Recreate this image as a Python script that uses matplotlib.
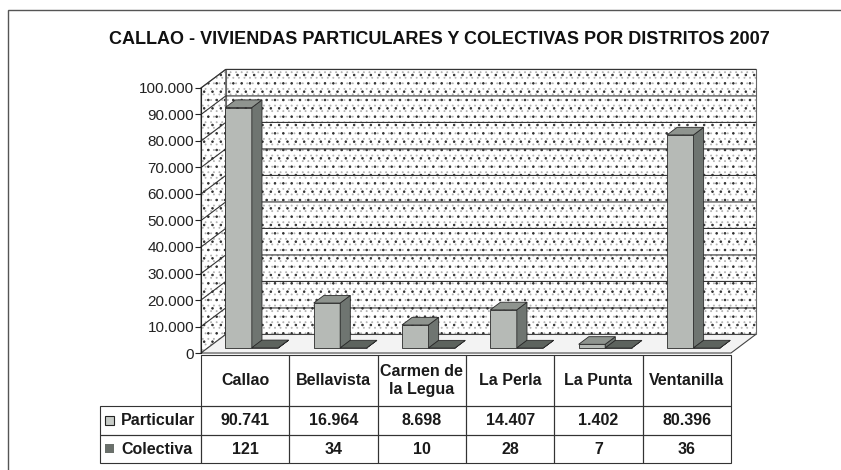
import matplotlib.pyplot as plt
from matplotlib.patches import Polygon, Rectangle

plt.rcParams['font.family'] = ['Liberation Sans', 'DejaVu Sans']
plt.rcParams['hatch.linewidth'] = 0.6

title = "CALLAO - VIVIENDAS PARTICULARES Y COLECTIVAS POR DISTRITOS 2007"
distritos = ["Callao", "Bellavista", "Carmen de\nla Legua", "La Perla", "La Punta", "Ventanilla"]
particular = [90741, 16964, 8698, 14407, 1402, 80396]
colectiva = [121, 34, 10, 28, 7, 36]
series = ["Particular", "Colectiva"]
yticks = list(range(0, 100001, 10000))

# fake 3d: depth of the box in category / value units
DX = 0.28
DY = 7000
f0, f1 = 0.27, 0.68   # depth span of the bars
bw = 0.3

colors = {
    "Particular": ('#b6bab6', '#6f7571', '#8f948f'),
    "Colectiva": ('#6a706b', '#4d534e', '#5d635e'),
}


def fmt(v):
    return f"{v:,}".replace(",", ".")


fig = plt.figure(figsize=(8.41, 4.70), dpi=100)
ax = fig.add_axes([0.239, 0.2489, 0.6596, 0.6034])
n = len(distritos)
top = yticks[-1]
ax.set_xlim(0, n + DX)
ax.set_ylim(0, top + DY)

# walls
walls = [
    [(DX, DY), (n + DX, DY), (n + DX, top + DY), (DX, top + DY)],
    [(0, 0), (DX, DY), (DX, top + DY), (0, top)],
]
for w in walls:
    ax.add_patch(Polygon(w, closed=True, facecolor='white', edgecolor='#b4b4b4', lw=0, hatch='...', zorder=0))
    ax.add_patch(Polygon(w, closed=True, facecolor='none', edgecolor='#303030', lw=0, hatch='..', zorder=0.1))
    ax.add_patch(Polygon(w, closed=True, facecolor='none', edgecolor='#666666', lw=0.8, zorder=0.2, clip_on=False))
floor = [(0, 0), (n, 0), (n + DX, DY), (DX, DY)]
ax.add_patch(Polygon(floor, closed=True, facecolor='#f3f3f3', edgecolor='#444444', lw=0.8, zorder=0.3, clip_on=False))
for v in yticks[1:]:
    ax.plot([0, DX, n + DX], [v, v + DY, v + DY], color='#333333', lw=0.8, zorder=0.5, clip_on=False)


def bar3d(x0, v, front, side, topc):
    ax.bar(x0 + f0 * DX, v, width=bw, bottom=f0 * DY, align='edge', color=front,
           edgecolor='#2a2a2a', lw=0.6, zorder=2)
    x1 = x0 + bw
    ax.add_patch(Polygon([(x1 + f0 * DX, f0 * DY), (x1 + f1 * DX, f1 * DY),
                          (x1 + f1 * DX, v + f1 * DY), (x1 + f0 * DX, v + f0 * DY)],
                         closed=True, facecolor=side, edgecolor='#2a2a2a', lw=0.6, zorder=2))
    ax.add_patch(Polygon([(x0 + f0 * DX, v + f0 * DY), (x1 + f0 * DX, v + f0 * DY),
                          (x1 + f1 * DX, v + f1 * DY), (x0 + f1 * DX, v + f1 * DY)],
                         closed=True, facecolor=topc, edgecolor='#2a2a2a', lw=0.6, zorder=2))


for i in range(n):
    bar3d(i + 0.5 - bw, particular[i], *colors["Particular"])
    bar3d(i + 0.5, colectiva[i], *colors["Colectiva"])

ax.set_xticks([])
ax.set_yticks(yticks)
ax.set_yticklabels([fmt(v) for v in yticks])
ax.tick_params(axis='y', length=4, width=0.8, labelsize=11, pad=1, colors='#222222')
for s in ['top', 'right', 'bottom']:
    ax.spines[s].set_visible(False)
ax.spines['left'].set_bounds(0, top)
ax.spines['left'].set_color('#222222')
ax.spines['left'].set_linewidth(0.8)
ax.patch.set_visible(False)

# data table, drawn in a pixel-like axes below the plot
lab_w, col_w = 101, 88.33
h_head, h_row = 51, 28.5
tw = lab_w + n * col_w
th = h_head + 2 * h_row
tax = fig.add_axes([100 / 841, 7 / 470, tw / 841, th / 470])
tax.set_xlim(0, tw)
tax.set_ylim(th, 0)
tax.axis('off')

cell_kw = dict(facecolor='none', edgecolor='#333333', lw=0.8, clip_on=False)
txt_kw = dict(fontsize=11.5, fontweight='bold', color='#1a1a1a', va='center')
rows = [[fmt(v) for v in particular], [fmt(v) for v in colectiva]]
for j, d in enumerate(distritos):
    x = lab_w + j * col_w
    tax.add_patch(Rectangle((x, 0), col_w, h_head, **cell_kw))
    tax.text(x + col_w / 2, h_head / 2, d, ha='center', linespacing=1.3, **txt_kw)
    for r in range(2):
        y = h_head + r * h_row
        tax.add_patch(Rectangle((x, y), col_w, h_row, **cell_kw))
        tax.text(x + col_w / 2, y + h_row / 2 + 0.5, rows[r][j], ha='center', **txt_kw)

keys = [('#c8ccc8', '#222222'), (colors["Colectiva"][0], 'none')]
for r, name in enumerate(series):
    y = h_head + r * h_row
    tax.add_patch(Rectangle((0, y), lab_w, h_row, **cell_kw))
    tax.add_patch(Rectangle((5, y + h_row / 2 - 4.5), 9, 9, facecolor=keys[r][0],
                            edgecolor=keys[r][1], lw=0.8, clip_on=False))
    tax.text(21, y + h_row / 2 + 0.5, name, ha='left', **txt_kw)

fig.text(0.523, 0.915, title, ha='center', va='center', fontsize=13, fontweight='bold', color='#111111')

# outer frame
fig.add_artist(Rectangle((8 / 841, -0.1), 1.2, 1.1 - 10 / 470, transform=fig.transFigure,
                         fill=False, edgecolor='#555555', lw=1))

fig.savefig('out.png', dpi=100)
